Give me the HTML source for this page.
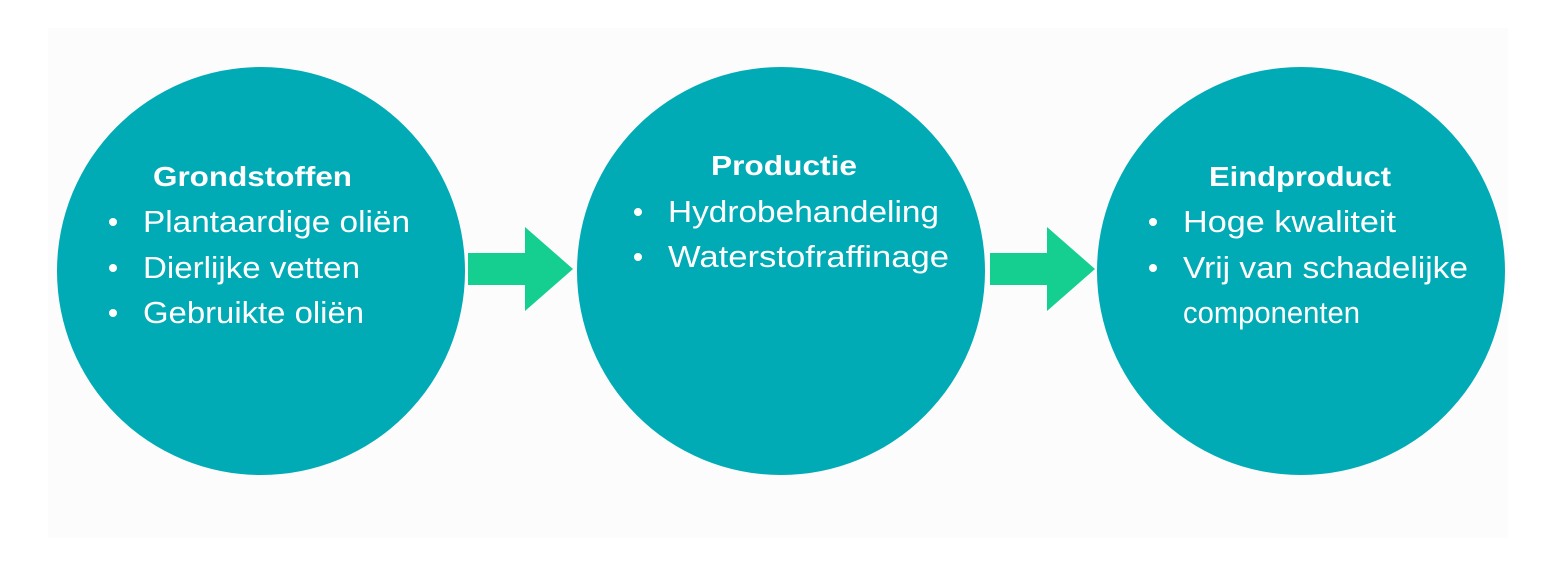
<!DOCTYPE html>
<html><head><meta charset="utf-8"><style>
body{margin:0;width:1542px;height:571px;background:#fff;overflow:hidden;font-family:"Liberation Sans",sans-serif;}
</style></head><body>
<svg width="1542" height="571" xmlns="http://www.w3.org/2000/svg">
<rect x="48" y="28" width="1460" height="510" fill="#fcfcfc"/>
<circle cx="261" cy="271" r="204" fill="#01abb6"/>
<circle cx="781" cy="271" r="204" fill="#01abb6"/>
<circle cx="1301" cy="271" r="204" fill="#01abb6"/>
<polygon points="468,253 525,253 525,227 573,269 525,311 525,285 468,285" fill="#14cf8f"/>
<polygon points="990,253 1047,253 1047,227 1095,269 1047,311 1047,285 990,285" fill="#14cf8f"/>
<g fill="#fff" font-family="Liberation Sans, sans-serif">
<text x="153" y="186" font-size="28" font-weight="bold" textLength="199" lengthAdjust="spacingAndGlyphs">Grondstoffen</text>
<g font-size="31">
<circle cx="113" cy="222" r="4"/><text x="143" y="232" textLength="267" lengthAdjust="spacingAndGlyphs">Plantaardige oliën</text>
<circle cx="113" cy="268" r="4"/><text x="143" y="278" textLength="217" lengthAdjust="spacingAndGlyphs">Dierlijke vetten</text>
<circle cx="113" cy="313" r="4"/><text x="143" y="323" textLength="221" lengthAdjust="spacingAndGlyphs">Gebruikte oliën</text>
</g>
<text x="711" y="175" font-size="28" font-weight="bold" textLength="146" lengthAdjust="spacingAndGlyphs">Productie</text>
<g font-size="31">
<circle cx="638" cy="212" r="4"/><text x="668" y="222" textLength="271" lengthAdjust="spacingAndGlyphs">Hydrobehandeling</text>
<circle cx="638" cy="257" r="4"/><text x="668" y="267" textLength="281" lengthAdjust="spacingAndGlyphs">Waterstofraffinage</text>
</g>
<text x="1209" y="186" font-size="28" font-weight="bold" textLength="182" lengthAdjust="spacingAndGlyphs">Eindproduct</text>
<g font-size="31">
<circle cx="1153" cy="222" r="4"/><text x="1183" y="232" textLength="213" lengthAdjust="spacingAndGlyphs">Hoge kwaliteit</text>
<circle cx="1153" cy="268" r="4"/><text x="1183" y="278" textLength="285" lengthAdjust="spacingAndGlyphs">Vrij van schadelijke</text>
<text x="1183" y="323" textLength="177" lengthAdjust="spacingAndGlyphs">componenten</text>
</g>
</g>
</svg>
</body></html>
